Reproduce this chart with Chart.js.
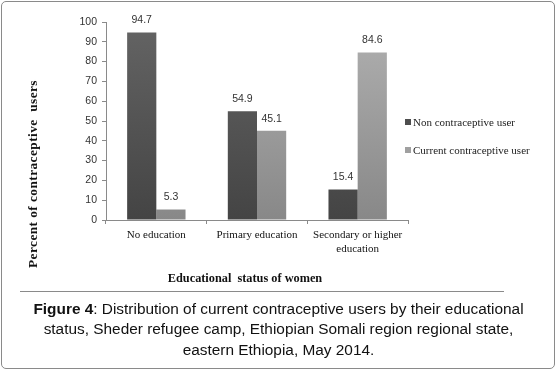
<!DOCTYPE html>
<html>
<head>
<meta charset="utf-8">
<script src="https://cdn.jsdelivr.net/npm/chart.js@4"></script>
<style>
  body { margin: 0; background: #fff; }
  #wrap { position: relative; width: 557px; height: 372px; }
  #frame { position: absolute; left: 1px; top: 1px; width: 552px; height: 366px; border: 1px solid #8a8a8a; border-radius: 5px; }
  #chartBox { position: absolute; left: 0; top: 0; width: 557px; height: 290px; }
  #rule { position: absolute; left: 20px; top: 291px; width: 484px; height: 0; border-top: 1px solid #8a8a8a; }
  #caption { position: absolute; left: 0; top: 299px; width: 557px; text-align: center; font-family: "Liberation Sans", Arial, sans-serif; font-size: 15.4px; line-height: 20.3px; color: #111; }
  #legend { position: absolute; left: 405px; top: 116px; font-family: "Liberation Serif", serif; font-size: 11px; color: #222; }
  #legend div { height: 27.5px; white-space: nowrap; }
  #legend span.sw { display: inline-block; width: 6px; height: 6px; margin-right: 2px; vertical-align: 1px; }
  .axTitle { position: absolute; font-family: "Liberation Serif", serif; font-weight: bold; color: #111; white-space: pre; }
  #yTitle { left: 33px; top: 174px; font-size: 13.3px; letter-spacing: 0.45px; transform: translate(-50%, -50%) rotate(-90deg); }
  #xTitle { left: 245px; top: 278px; font-size: 12.3px; transform: translate(-50%, -50%); }
</style>
</head>
<body>
<div id="wrap">
  <div id="frame"></div>
  <div id="chartBox"><canvas id="chart" width="557" height="290"></canvas></div>
  <div id="yTitle" class="axTitle"></div>
  <div id="xTitle" class="axTitle"></div>
  <div id="legend"></div>
  <div id="rule"></div>
  <div id="caption"><b>Figure 4</b>: Distribution of current contraceptive users by their educational<br>status, Sheder refugee camp, Ethiopian Somali region regional state,<br>eastern Ethiopia, May 2014.</div>
</div>
<script>
// datos
const categories = ['No education', 'Primary education', ['Secondary or higher', 'education']];
const nonUsers = [94.7, 54.9, 15.4];
const currentUsers = [5.3, 45.1, 84.6];
const seriesLabels = ['Non contraceptive user', 'Current contraceptive user'];
const yTicks = [0, 10, 20, 30, 40, 50, 60, 70, 80, 90, 100];
const yTitleText = 'Percent of contraceptive  users';
const xTitleText = 'Educational  status of women';

const darkSwatch = '#4e4e4e';
const lightSwatch = '#a0a0a0';

// degradado vertical como en el original
function shade(top, bottom) {
    return (ctx) => {
        const area = ctx.chart.chartArea;
        if (!area) return top;
        const g = ctx.chart.ctx.createLinearGradient(0, area.top, 0, area.bottom);
        g.addColorStop(0, top);
        g.addColorStop(1, bottom);
        return g;
    };
}

// etiquetas de valor encima de cada barra
const valueLabels = {
    id: 'valueLabels',
    afterDatasetsDraw(chart) {
        const c = chart.ctx;
        c.save();
        c.font = '10.5px "Liberation Sans", Arial, sans-serif';
        c.fillStyle = '#333';
        c.textAlign = 'center';
        c.textBaseline = 'middle';
        chart.data.datasets.forEach((ds, i) => {
            chart.getDatasetMeta(i).data.forEach((bar, j) => {
                c.fillText(ds.data[j].toFixed(1), bar.x, bar.y - 12);
            });
        });
        c.restore();
    }
};

const chart = new Chart(document.getElementById('chart'), {
    type: 'bar',
    data: {
        labels: categories,
        datasets: [
            { label: seriesLabels[0], data: nonUsers, backgroundColor: shade('#646464', '#444444'), swatch: darkSwatch },
            { label: seriesLabels[1], data: currentUsers, backgroundColor: shade('#b0b0b0', '#888888'), swatch: lightSwatch }
        ]
    },
    options: {
        responsive: false,
        animation: false,
        devicePixelRatio: 1,
        layout: { padding: { left: 22, top: 22, right: 149, bottom: 1 } },
        datasets: { bar: { categoryPercentage: 0.58, barPercentage: 1.0 } },
        plugins: { legend: { display: false }, tooltip: { enabled: false } },
        scales: {
            x: {
                grid: { drawOnChartArea: false, color: '#8a8a8a', tickLength: 4 },
                border: { color: '#8a8a8a' },
                ticks: { color: '#111', padding: 5, font: { family: '"Liberation Serif", serif', size: 11 } },
                afterFit: (s) => { s.height = 69; }
            },
            y: {
                min: 0, max: 100,
                afterBuildTicks: (s) => { s.ticks = yTicks.map(v => ({ value: v })); },
                grid: { drawOnChartArea: false, color: '#8a8a8a', tickLength: 4 },
                border: { color: '#8a8a8a' },
                ticks: { color: '#333', padding: 5, font: { family: '"Liberation Sans", Arial, sans-serif', size: 10.5 } },
                afterFit: (s) => { s.width = 84; }
            }
        }
    },
    plugins: [valueLabels]
});

// titulos de ejes y leyenda
document.getElementById('yTitle').textContent = yTitleText;
document.getElementById('xTitle').textContent = xTitleText;
document.getElementById('legend').innerHTML = chart.data.datasets
    .map(ds => `<div><span class="sw" style="background:${ds.swatch}"></span>${ds.label}</div>`)
    .join('');
</script>
</body>
</html>
